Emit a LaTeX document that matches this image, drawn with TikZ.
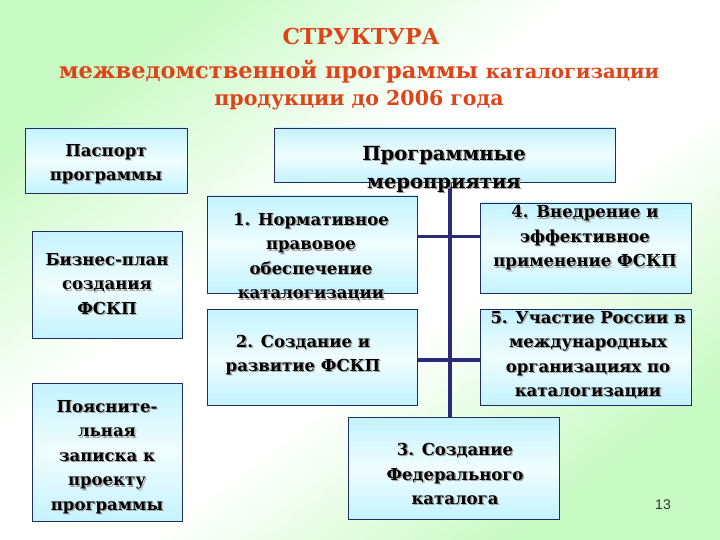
\documentclass[tikz,border=0pt]{standalone}
\usepackage{fontspec}
\setmainfont{DejaVu Serif}
\newfontfamily\numfont{Liberation Sans}
\usetikzlibrary{
    positioning,  % For relative placement
    calc          % For shifted positions
}

\definecolor{bggreen}{RGB}{200,250,195}
\definecolor{boxcyan}{RGB}{196,243,255}
\definecolor{boxpale}{RGB}{240,253,255}
\definecolor{boxline}{RGB}{30,45,100}
\definecolor{linknavy}{RGB}{42,42,122}
\definecolor{titlered}{RGB}{222,68,24}

% green corners, white across the middle
\pgfdeclareverticalshading{slidebg}{100bp}{
    color(0bp)=(bggreen); color(25bp)=(bggreen); color(43bp)=(white);
    color(57bp)=(white); color(75bp)=(bggreen); color(100bp)=(bggreen)}

% text with a grey drop shadow: name, position, text
\newcommand\shadowtext[4][paneltext]{%
    \node[#1, text=black!35] at ([shift={(1.3pt,-1.3pt)}]#3) {#4};
    \node[#1] (#2) at (#3) {#4};
}

\begin{document}
\begin{tikzpicture}[
    x=1pt, y=-1pt, % pixel-like coordinates from the top left corner
    panel/.style={draw=boxline, line width=0.8pt, inner sep=0pt,
        top color=boxcyan, bottom color=boxcyan, middle color=boxpale},
    paneltext/.style={font=\bfseries\fontsize{16.5}{24.5}\selectfont, align=center, inner sep=0pt},
    headtext/.style={font=\bfseries\fontsize{19.5}{28}\selectfont, align=center, inner sep=0pt},
    titletext/.style={text=titlered, inner sep=0pt},
    link/.style={draw=linknavy, line width=3.5pt}
]

    % Background
    \useasboundingbox (0,0) rectangle (720,540);
    \shade[shading=slidebg, shading angle=37] (0,0) rectangle (720,540);

    % Title
    \node[titletext, font=\bfseries\fontsize{22}{26}\selectfont] (title) at (361,36) {СТРУКТУРА};
    \node[titletext] (subtitle) at (359,72)
        {\bfseries\fontsize{22.5}{26}\selectfont межведомственной программы
         \fontsize{19.5}{24}\selectfont каталогизации};
    \node[titletext, font=\bfseries\fontsize{20.5}{24}\selectfont] (years) at (359,100)
        {продукции до 2006 года};

    % Boxes on the left
    \node[panel, minimum width=162pt, minimum height=65pt]  (pasp) at (106,160.5) {};
    \node[panel, minimum width=150pt, minimum height=107pt] (biz)  at (107,284.5) {};
    \node[panel, minimum width=150pt, minimum height=138pt] (note) at (107,452) {};

    % Programme measures
    \node[panel, minimum width=341pt, minimum height=54pt]  (prog)  at (444.5,155) {};
    \node[panel, minimum width=210pt, minimum height=97pt]  (norm)  at (312,244.5) {};
    \node[panel, minimum width=210pt, minimum height=96pt]  (build) at (312,357) {};
    \node[panel, minimum width=211pt, minimum height=90pt]  (use)   at (585.5,248) {};
    \node[panel, minimum width=211pt, minimum height=96pt]  (intl)  at (585.5,357) {};
    \node[panel, minimum width=211pt, minimum height=102pt] (fed)   at (453.5,468) {};

    % Connectors
    \coordinate (spine) at (450,300);
    \draw[link] (spine |- prog.south) -- (spine |- fed.north);
    \draw[link] ([yshift=8pt]norm.east) -- ([yshift=8pt]norm.east -| use.west);
    \draw[link] ([yshift=-3pt]build.east) -- ([yshift=-3pt]build.east -| intl.west);

    % Texts of the boxes
    \shadowtext{paspT}{106,164}{Паспорт\\программы}
    \shadowtext{bizT}{107,284}{Бизнес-план\\создания\\ФСКП}
    \shadowtext{noteT}{107,457}{Поясните-\\льная\\записка к\\проекту\\программы}
    \shadowtext[headtext]{progT}{444,169}{Программные\\мероприятия}
    \shadowtext{normT}{311,257}{1. Нормативное\\правовое\\обеспечение\\каталогизации}
    \shadowtext{buildT}{303,355}{2. Создание и\\развитие ФСКП}
    \shadowtext{useT}{585,238}{4. Внедрение и\\эффективное\\применение ФСКП}
    \shadowtext{intlT}{588,355}{5. Участие России в\\международных\\организациях по\\каталогизации}
    \shadowtext{fedT}{455,474}{3. Создание\\Федерального\\каталога}

    % Page number
    \node[font=\numfont\fontsize{14}{16}\selectfont, text=black!80] (page) at (663,505) {13};

\end{tikzpicture}
\end{document}
